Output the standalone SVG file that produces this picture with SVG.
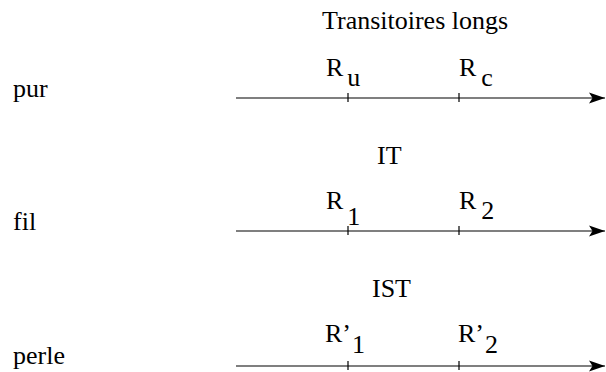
<svg xmlns="http://www.w3.org/2000/svg" width="606" height="372" viewBox="0 0 606 372" font-family="'Liberation Serif', 'DejaVu Serif', serif">
<style>
text{font-family:'Liberation Serif','DejaVu Serif',serif;font-size:26px;fill:#000}
.ax{stroke:#000;stroke-width:1.2;fill:none}
.tk{stroke:#000;stroke-width:1.2}
</style>
<defs>
<marker id="ah" markerUnits="userSpaceOnUse" markerWidth="18" markerHeight="14" refX="16" refY="7" orient="auto">
<path d="M0,1.5 L16,7 L0,12.5 L3.5,7 Z" fill="#000"/>
</marker>
</defs>
<rect width="606" height="372" fill="#fff"/>
<g id="titles">
<text x="322" y="29">Transitoires longs</text>
<text x="377" y="164">IT</text>
<text x="372" y="297">IST</text>
</g>
<g id="row-pur">
<text x="13" y="97">pur</text>
<text x="326" y="76">R<tspan dx="4" dy="10">u</tspan></text>
<text x="459" y="76">R<tspan dx="5" dy="10">c</tspan></text>
</g>
<g id="row-fil">
<text x="13" y="230">fil</text>
<text x="326" y="209">R<tspan dx="4" dy="16">1</tspan></text>
<text x="459" y="209">R<tspan dx="5" dy="10">2</tspan></text>
</g>
<g id="row-perle">
<text x="13" y="364">perle</text>
<text x="325" y="342">R’<tspan dx="1" dy="11">1</tspan></text>
<text x="458" y="342">R’<tspan dx="1" dy="11">2</tspan></text>
</g>
<g id="connectors">
<line class="ax" x1="236" y1="98" x2="605" y2="98" marker-end="url(#ah)"/>
<line class="tk" x1="348" y1="93" x2="348" y2="102"/>
<line class="tk" x1="459" y1="93" x2="459" y2="102"/>
<line class="ax" x1="236" y1="231" x2="605" y2="231" marker-end="url(#ah)"/>
<line class="tk" x1="348" y1="226" x2="348" y2="235"/>
<line class="tk" x1="459" y1="226" x2="459" y2="235"/>
<line class="ax" x1="236" y1="366" x2="605" y2="366" marker-end="url(#ah)"/>
<line class="tk" x1="348" y1="361" x2="348" y2="370"/>
<line class="tk" x1="459" y1="361" x2="459" y2="370"/>
</g>
</svg>
